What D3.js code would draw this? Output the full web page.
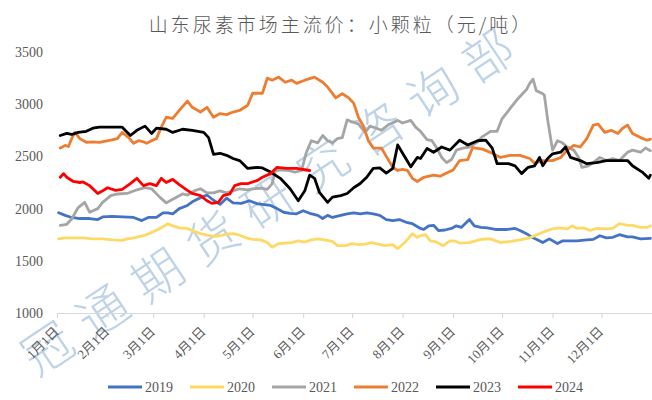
<!DOCTYPE html>
<html><head><meta charset="utf-8">
<script src="https://cdn.jsdelivr.net/npm/d3@7"></script>
<style>
html,body{margin:0;padding:0;background:#fff;}
svg{display:block;}
</style></head>
<body>
<svg id="chart" width="652" height="400"></svg>
<script>
// ---------- DATA (day-of-year offset from 1 Jan, price 元/吨) ----------
const titleText = "山东尿素市场主流价：小颗粒（元/吨）";
const watermarkText = "冠通期货研究咨询部";
const yTicks = [1000, 1500, 2000, 2500, 3000, 3500];
const monthLabels = ["1月1日","2月1日","3月1日","4月1日","5月1日","6月1日","7月1日","8月1日","9月1日","10月1日","11月1日","12月1日"];
const seriesNames = ["2019","2020","2021","2022","2023","2024"];
const seriesColors = ["#4472C4","#FFD966","#A5A5A5","#ED7D31","#000000","#FF0000"];

const s2019 = [[1,1960],[5,1935],[9,1915],[14,1905],[20,1905],[25,1895],[28,1920],[34,1925],[40,1920],[47,1915],[52,1885],[56,1915],[61,1915],[65,1960],[68,1960],[71,1950],[75,2000],[80,2030],[83,2065],[88,2105],[92,2130],[96,2080],[100,2040],[104,2100],[108,2055],[113,2050],[118,2075],[123,2045],[126,2040],[131,2030],[135,2000],[139,1965],[143,1955],[147,1950],[151,1980],[155,1955],[160,1935],[163,1905],[166,1935],[169,1915],[174,1935],[178,1950],[182,1960],[186,1950],[190,1960],[194,1950],[198,1935],[202,1895],[206,1885],[210,1895],[215,1865],[218,1855],[223,1810],[225,1800],[228,1835],[231,1840],[234,1790],[238,1795],[242,1810],[245,1835],[248,1820],[253,1895],[256,1835],[260,1820],[264,1815],[269,1800],[276,1800],[281,1810],[284,1790],[288,1760],[292,1720],[295,1700],[298,1675],[302,1710],[307,1665],[310,1690],[313,1690],[319,1690],[325,1700],[329,1705],[333,1740],[337,1720],[341,1725],[345,1750],[350,1730],[353,1730],[358,1710],[364,1715]];
const s2020 = [[1,1710],[5,1720],[10,1720],[16,1720],[22,1710],[28,1710],[34,1700],[40,1695],[43,1710],[47,1720],[53,1740],[58,1770],[62,1800],[66,1835],[68,1855],[71,1835],[75,1815],[80,1810],[83,1790],[88,1760],[92,1745],[96,1735],[100,1740],[104,1755],[108,1760],[112,1745],[117,1715],[120,1705],[125,1700],[129,1675],[132,1630],[136,1665],[140,1670],[144,1675],[148,1690],[152,1680],[156,1700],[160,1710],[164,1700],[169,1685],[172,1645],[177,1645],[181,1665],[185,1655],[189,1660],[193,1675],[197,1660],[201,1645],[206,1655],[209,1615],[213,1670],[218,1760],[221,1725],[223,1740],[226,1750],[229,1690],[232,1685],[237,1645],[241,1690],[244,1690],[247,1670],[253,1675],[260,1705],[266,1710],[272,1675],[278,1685],[284,1700],[290,1720],[296,1760],[301,1790],[304,1805],[309,1815],[313,1805],[316,1835],[319,1810],[323,1815],[327,1790],[331,1810],[337,1805],[341,1810],[345,1855],[350,1840],[353,1840],[358,1820],[362,1820],[364,1835]];
const s2021 = [[2,1840],[6,1850],[9,1900],[13,2010],[17,2060],[20,1965],[25,2000],[28,2060],[33,2125],[37,2140],[43,2145],[49,2180],[54,2200],[58,2190],[63,2110],[67,2055],[71,2090],[77,2140],[80,2130],[85,2175],[88,2190],[92,2150],[96,2150],[100,2170],[104,2150],[108,2170],[112,2190],[117,2180],[120,2190],[125,2195],[129,2185],[132,2240],[134,2365],[138,2370],[142,2365],[146,2350],[150,2365],[153,2540],[156,2650],[160,2630],[163,2700],[166,2650],[169,2630],[172,2670],[175,2680],[178,2850],[181,2830],[185,2810],[189,2730],[192,2790],[196,2770],[199,2750],[203,2800],[209,2845],[212,2820],[217,2845],[220,2780],[223,2740],[227,2660],[230,2650],[233,2580],[236,2490],[239,2440],[242,2470],[245,2560],[249,2580],[253,2590],[258,2640],[261,2690],[266,2740],[270,2740],[273,2860],[278,2960],[282,3040],[285,3090],[288,3140],[290,3200],[292,3240],[294,3130],[298,3100],[299,3085],[301,2850],[304,2560],[307,2650],[310,2630],[313,2590],[317,2560],[320,2490],[322,2395],[326,2410],[329,2440],[333,2490],[337,2460],[341,2480],[345,2460],[350,2540],[353,2560],[358,2540],[361,2580],[364,2555]];
const s2022 = [[2,2580],[5,2605],[7,2595],[9,2670],[11,2730],[14,2670],[18,2635],[22,2640],[26,2635],[33,2655],[37,2670],[40,2730],[44,2680],[47,2625],[50,2650],[53,2640],[55,2625],[58,2650],[61,2670],[64,2780],[67,2875],[71,2865],[75,2940],[80,3030],[83,2970],[88,2925],[92,2970],[96,2875],[100,2910],[104,2900],[108,2925],[112,2940],[117,2990],[120,3105],[126,3105],[129,3250],[132,3230],[136,3260],[140,3210],[144,3230],[147,3200],[152,3230],[158,3260],[163,3210],[166,3165],[171,3060],[175,3100],[179,3060],[182,3010],[185,2870],[188,2790],[191,2650],[194,2580],[199,2580],[202,2500],[206,2395],[209,2365],[212,2375],[215,2365],[218,2290],[221,2260],[225,2300],[231,2320],[235,2310],[239,2340],[243,2370],[247,2460],[252,2470],[255,2585],[261,2570],[267,2530],[272,2490],[278,2510],[284,2510],[290,2480],[293,2435],[298,2460],[304,2460],[309,2490],[313,2560],[317,2605],[321,2590],[325,2670],[329,2800],[332,2810],[336,2730],[340,2750],[344,2720],[347,2770],[350,2800],[353,2720],[358,2680],[362,2655],[364,2665]];
const s2023 = [[2,2700],[6,2720],[9,2710],[13,2730],[18,2740],[22,2770],[26,2780],[34,2780],[40,2780],[45,2700],[49,2750],[54,2790],[58,2720],[61,2770],[67,2760],[71,2730],[77,2760],[83,2750],[90,2730],[93,2680],[96,2520],[100,2530],[104,2510],[108,2480],[112,2460],[117,2385],[123,2395],[126,2390],[131,2350],[137,2290],[143,2190],[148,2075],[152,2170],[155,2320],[158,2290],[161,2155],[166,2060],[169,2110],[174,2125],[178,2145],[182,2200],[186,2240],[190,2300],[194,2385],[198,2390],[202,2340],[206,2385],[209,2610],[212,2530],[217,2400],[221,2490],[223,2480],[227,2575],[231,2540],[236,2590],[241,2560],[247,2655],[252,2610],[258,2650],[263,2655],[267,2580],[270,2430],[277,2430],[281,2410],[285,2335],[289,2395],[293,2410],[296,2490],[298,2410],[301,2480],[304,2525],[309,2540],[312,2590],[315,2490],[321,2460],[325,2430],[331,2440],[337,2460],[344,2460],[350,2460],[353,2410],[359,2350],[363,2290],[364,2320]];
const s2024 = [[2,2300],[4,2335],[6,2300],[10,2260],[14,2250],[16,2255],[20,2220],[25,2145],[28,2170],[31,2200],[36,2175],[40,2185],[45,2240],[49,2290],[53,2220],[57,2240],[61,2220],[64,2290],[67,2250],[71,2280],[75,2230],[80,2175],[83,2145],[88,2125],[92,2075],[95,2050],[99,2060],[102,2125],[106,2140],[109,2220],[113,2240],[117,2240],[123,2270],[126,2300],[131,2335],[135,2395],[141,2385],[147,2385],[155,2365]];
const seriesData = [s2019, s2020, s2021, s2022, s2023, s2024];

// ---------- CHART ----------
const svg = d3.select("#chart");
const W = 652, H = 400;
const margin = {left: 57, right: 0, top: 52, bottom: 87};
const baseYear = 2023;
const dayToDate = d => new Date(baseYear, 0, 1 + d);

const x = d3.scaleTime()
  .domain([new Date(baseYear, 0, 1), new Date(baseYear + 1, 0, 1)])
  .range([margin.left, W - margin.right]);
const y = d3.scaleLinear().domain([1000, 3500]).range([313, 52]);

const serif = "'Liberation Serif','Times New Roman','Noto Sans CJK SC',serif";
const textColor = "#595959";

// watermark
const wm = svg.append("g").attr("class", "watermark");
const wmStart = [48, 349], wmEnd = [488, 56];
const wmChars = Array.from(watermarkText);
const ang = Math.atan2(wmEnd[1] - wmStart[1], wmEnd[0] - wmStart[0]) * 180 / Math.PI;
wmChars.forEach((c, i) => {
  const t = i / (wmChars.length - 1);
  const cx = wmStart[0] + t * (wmEnd[0] - wmStart[0]);
  const cy = wmStart[1] + t * (wmEnd[1] - wmStart[1]);
  wm.append("text")
    .attr("transform", `translate(${cx},${cy}) rotate(${ang})`)
    .attr("text-anchor", "middle")
    .attr("dy", "0.35em")
    .style("font-family", "'Noto Sans CJK SC',sans-serif")
    .style("font-weight", 300)
    .style("font-size", "50px")
    .style("fill", "#bfd3e8")
    .text(c);
});

// title
svg.append("text")
  .attr("x", 341).attr("y", 32)
  .attr("text-anchor", "middle")
  .style("font-family", "'Noto Sans CJK SC',sans-serif")
  .style("font-weight", 300)
  .style("font-size", "19px")
  .style("letter-spacing", "3px")
  .style("fill", textColor)
  .text(titleText);

// y axis labels
const yAxis = d3.axisLeft(y).tickValues(yTicks).tickSize(0).tickPadding(14).tickFormat(d3.format("d"));
const gy = svg.append("g").attr("transform", `translate(${margin.left},0)`).call(yAxis);
gy.select(".domain").remove();
gy.selectAll("text").style("font-family", serif).style("font-size", "14px").style("fill", textColor);

// x axis
const monthDates = monthLabels.map((_, i) => new Date(baseYear, i, 1));
const xAxis = d3.axisBottom(x).tickValues(monthDates).tickSize(5).tickSizeOuter(0)
  .tickFormat((d, i) => monthLabels[i]);
const gx = svg.append("g").attr("transform", `translate(0,${y(1000)})`).call(xAxis);
gx.select(".domain").attr("stroke", "#d9d9d9").attr("stroke-width", 1.2);
gx.selectAll(".tick line").attr("stroke", "#d9d9d9").attr("stroke-width", 1.2);
gx.selectAll(".tick text")
  .attr("y", 0).attr("x", 0).attr("dy", "0.35em")
  .attr("transform", "translate(-1,16) rotate(-45)")
  .attr("text-anchor", "end")
  .style("font-family", serif)
  .style("font-size", "13px")
  .style("fill", textColor);

// lines
const line = d3.line()
  .x(d => x(dayToDate(d[0])))
  .y(d => y(d[1]));
seriesData.forEach((s, i) => {
  svg.append("path")
    .datum(s)
    .attr("fill", "none")
    .attr("stroke", seriesColors[i])
    .attr("stroke-width", 2.8)
    .attr("stroke-linejoin", "round")
    .attr("stroke-linecap", "round")
    .attr("d", line);
});

// legend
const legend = svg.append("g").attr("transform", "translate(108,387)");
seriesNames.forEach((n, i) => {
  const g = legend.append("g").attr("transform", `translate(${i * 82},0)`);
  g.append("line").attr("x1", 0).attr("x2", 34).attr("y1", 0).attr("y2", 0)
    .attr("stroke", seriesColors[i]).attr("stroke-width", 3);
  g.append("text").attr("x", 37).attr("y", 0).attr("dy", "0.35em")
    .style("font-family", serif).style("font-size", "14px").style("fill", textColor)
    .text(n);
});
</script>
</body></html>
